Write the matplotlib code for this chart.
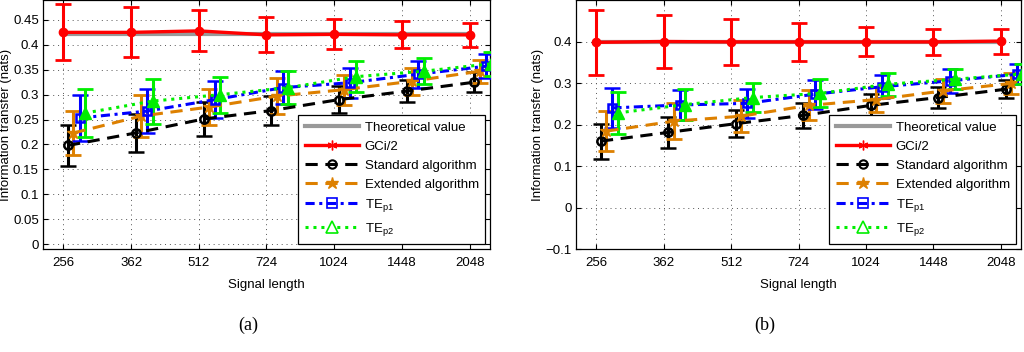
# SIGNAL LENGTH VS INFORMATION TRANSFER, TWO PANELS (a) AND (b)
import numpy as np
import matplotlib
matplotlib.use("Agg")
import matplotlib.pyplot as plt
from matplotlib.lines import Line2D

# DATA
lengths = ["256", "362", "512", "724", "1024", "1448", "2048"]

a_theory = [0.422, 0.422, 0.422, 0.422, 0.422, 0.422, 0.422]
a_gci = [0.425, 0.425, 0.428, 0.420, 0.421, 0.420, 0.420]
a_gci_err = [0.056, 0.050, 0.041, 0.035, 0.030, 0.027, 0.024]
a_std = [0.198, 0.223, 0.251, 0.268, 0.290, 0.307, 0.325]
a_std_err = [0.041, 0.039, 0.035, 0.030, 0.027, 0.022, 0.020]
a_ext = [0.223, 0.257, 0.275, 0.297, 0.310, 0.327, 0.347]
a_ext_err = [0.045, 0.043, 0.036, 0.036, 0.030, 0.027, 0.023]
a_tp1 = [0.253, 0.267, 0.290, 0.314, 0.324, 0.341, 0.357]
a_tp1_err = [0.047, 0.045, 0.037, 0.033, 0.030, 0.027, 0.024]
a_tp2 = [0.263, 0.287, 0.300, 0.314, 0.336, 0.347, 0.362]
a_tp2_err = [0.048, 0.045, 0.036, 0.033, 0.031, 0.026, 0.024]

b_theory = [0.400, 0.400, 0.400, 0.400, 0.400, 0.400, 0.400]
b_gci = [0.398, 0.400, 0.399, 0.399, 0.399, 0.399, 0.401]
b_gci_err = [0.079, 0.065, 0.055, 0.045, 0.035, 0.032, 0.030]
b_std = [0.160, 0.181, 0.202, 0.222, 0.246, 0.265, 0.285]
b_std_err = [0.042, 0.038, 0.033, 0.030, 0.027, 0.026, 0.022]
b_ext = [0.184, 0.208, 0.220, 0.246, 0.260, 0.281, 0.299]
b_ext_err = [0.048, 0.043, 0.038, 0.036, 0.031, 0.029, 0.025]
b_tp1 = [0.240, 0.247, 0.251, 0.273, 0.291, 0.305, 0.321]
b_tp1_err = [0.049, 0.036, 0.035, 0.035, 0.028, 0.028, 0.024]
b_tp2 = [0.228, 0.248, 0.265, 0.275, 0.297, 0.309, 0.322]
b_tp2_err = [0.050, 0.038, 0.034, 0.034, 0.028, 0.024, 0.024]

labels = ["Theoretical value", "GCi/2", "Standard algorithm", "Extended algorithm",
          r"TE$_{\mathrm{p1}}$", r"TE$_{\mathrm{p2}}$"]

# COLOURS
GRAY = "#999999"
RED = "#ff0000"
BLACK = "#000000"
ORANGE = "#dd8000"
BLUE = "#0000ff"
GREEN = "#00ee00"

plt.rcParams["font.family"] = ["Liberation Sans", "DejaVu Sans"]
plt.rcParams["mathtext.fontset"] = "custom"
plt.rcParams["mathtext.rm"] = "Liberation Sans"
plt.rcParams["mathtext.it"] = "Liberation Sans"
FS = 9.5


def draw_panel(ax, theory, gci, gci_err, std, std_err, ext, ext_err, tp1, tp1_err, tp2, tp2_err):
    x = np.arange(len(lengths))
    ax.plot(x, theory, color=GRAY, lw=3.0, zorder=2)
    eb = dict(capsize=6, capthick=2, elinewidth=2.2, zorder=3)
    ax.errorbar(x, gci, yerr=gci_err, color=RED, lw=2.4, marker="o", ms=6, **eb)
    ax.errorbar(x + 0.07, std, yerr=std_err, color=BLACK, lw=2.2, ls=(0, (4, 2.5)),
                marker="o", ms=6, mfc="none", mew=1.8, **eb)
    ax.errorbar(x + 0.15, ext, yerr=ext_err, color=ORANGE, lw=2.2, ls=(0, (4, 2.5)),
                marker="*", ms=9, **eb)
    ax.errorbar(x + 0.24, tp1, yerr=tp1_err, color=BLUE, lw=2.2, ls=(0, (3, 1.5, 1, 1.5)),
                marker="s", ms=6, mfc="none", mew=1.8, **eb)
    ax.errorbar(x + 0.32, tp2, yerr=tp2_err, color=GREEN, lw=2.2, ls=(0, (1, 1.6)),
                marker="^", ms=8, **eb)

    ax.set_xlim(-0.3, len(lengths) - 0.7)
    ax.set_xticks(x)
    ax.set_xticklabels(lengths)
    ax.tick_params(direction="in", top=True, right=True, length=3.5, width=0.8,
                   labelsize=FS)
    ax.tick_params(axis="y", pad=3)
    ax.tick_params(axis="x", pad=6)
    ax.grid(True, ls=(0, (1, 4)), color="#555555", lw=0.7)
    for sp in ax.spines.values():
        sp.set_linewidth(0.9)
    ax.set_xlabel("Signal length", fontsize=FS, labelpad=7)
    ax.set_ylabel("Information transfer (nats)", fontsize=FS, labelpad=1)

    handles = [
        Line2D([], [], color=GRAY, lw=3),
        Line2D([], [], color=RED, lw=2.4, marker=(6, 2, 0), ms=7, mew=1),
        Line2D([], [], color=BLACK, lw=2.2, ls=(0, (4, 2.5)), marker="o", ms=6,
               mfc="none", mew=1.5),
        Line2D([], [], color=ORANGE, lw=2.2, ls=(0, (4, 2.5)), marker="*", ms=9),
        Line2D([], [], color=BLUE, lw=2.2, ls=(0, (3, 1.5, 1, 1.5)), marker="s", ms=7,
               mfc="none", mew=1.2),
        Line2D([], [], color=GREEN, lw=2.2, ls=(0, (1, 1.6)), marker="^", ms=9,
               mfc="white", mew=1.2),
    ]
    leg = ax.legend(handles, labels, loc="lower right", fontsize=FS, frameon=True,
                    fancybox=False, framealpha=1, edgecolor="black", handlelength=4.1,
                    labelspacing=0.5, borderaxespad=0.35, handletextpad=0.45,
                    borderpad=0.5)
    leg.get_frame().set_linewidth(0.9)
    leg.set_zorder(10)


fig = plt.figure(figsize=(10.24, 3.52), dpi=100)
ax1 = fig.add_axes([0.042, 0.2926, 0.4365, 0.7074])
ax2 = fig.add_axes([0.5625, 0.2926, 0.4346, 0.7074])

draw_panel(ax1, a_theory, a_gci, a_gci_err, a_std, a_std_err, a_ext, a_ext_err,
           a_tp1, a_tp1_err, a_tp2, a_tp2_err)
ax1.set_ylim(-0.01, 0.49)
ax1.set_yticks(np.arange(0, 0.46, 0.05))
ax1.set_yticklabels(["0", "0.05", "0.1", "0.15", "0.2", "0.25", "0.3", "0.35", "0.4", "0.45"])

draw_panel(ax2, b_theory, b_gci, b_gci_err, b_std, b_std_err, b_ext, b_ext_err,
           b_tp1, b_tp1_err, b_tp2, b_tp2_err)
ax2.set_ylim(-0.1, 0.5)
ax2.set_yticks([-0.1, 0, 0.1, 0.2, 0.3, 0.4])
ax2.set_yticklabels(["\u22120.1", "0", "0.1", "0.2", "0.3", "0.4"])

# SUBFIGURE CAPTIONS
fig.text(0.242, 0.077, "(a)", ha="center", va="center", fontsize=13, family="Liberation Serif")
fig.text(0.747, 0.077, "(b)", ha="center", va="center", fontsize=13, family="Liberation Serif")

fig.savefig("out.png", dpi=100)
